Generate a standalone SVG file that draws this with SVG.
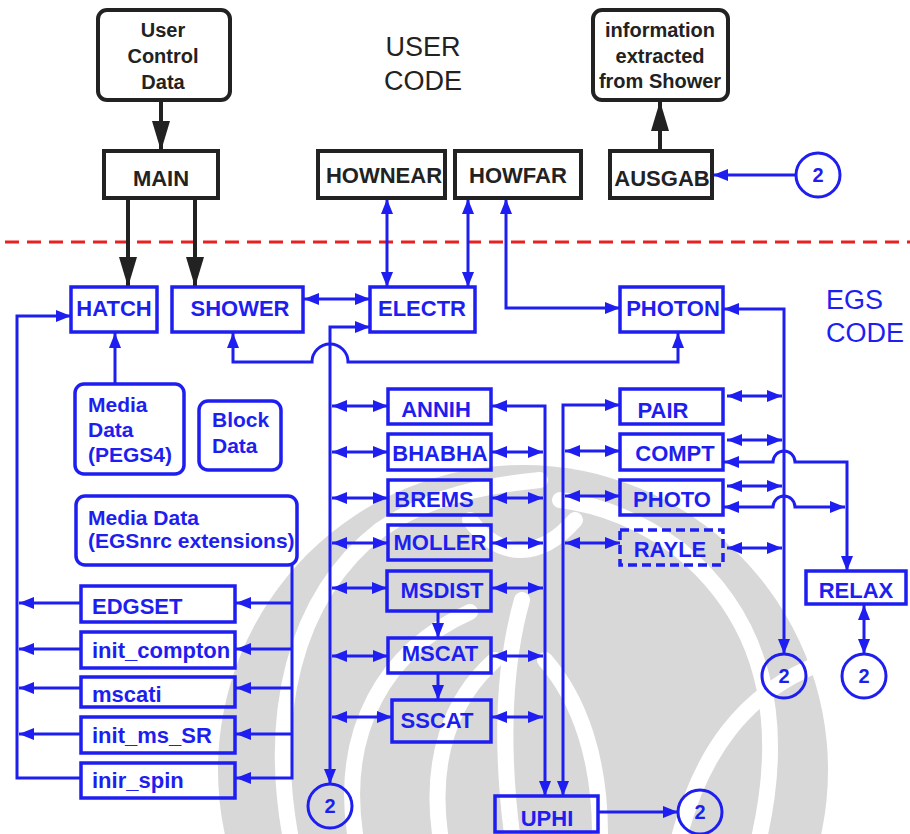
<svg xmlns="http://www.w3.org/2000/svg" width="910" height="834" viewBox="0 0 910 834">
<style>
.bk{fill:#fff;stroke:#222;stroke-width:4}
.bb{fill:none;stroke:#1e1ef0;stroke-width:3.5}
.t{font-family:"Liberation Sans",Arial,sans-serif;font-weight:bold;font-size:22px}
.tk{fill:#222}
.tb{fill:#1e1ef0}
.m{text-anchor:middle}
.cb{fill:none;stroke:#1e1ef0;stroke-width:3}
.ck{fill:none;stroke:#222;stroke-width:4}
.bl{fill:none;stroke:#1e1ef0;stroke-width:3}
.big{font-family:"Liberation Sans",Arial,sans-serif;font-size:27px}
.wm{fill:none;stroke:#fff;stroke-width:16;stroke-linecap:round}
</style>
<defs>
<marker id="ab" viewBox="0 0 15 12" refX="15" refY="6" markerWidth="15" markerHeight="12" markerUnits="userSpaceOnUse" orient="auto-start-reverse"><path d="M0,0 L15,6 L0,12 z" fill="#1e1ef0"/></marker>
<marker id="ak" viewBox="0 0 30 18" refX="30" refY="9" markerWidth="30" markerHeight="18" markerUnits="userSpaceOnUse" orient="auto-start-reverse"><path d="M0,0 L30,9 L0,18 z" fill="#222"/></marker>
</defs>
<rect width="910" height="834" fill="#fff"/>
<g id="watermark">
<circle cx="523" cy="770" r="305" fill="#d8d8d8"/>
<path class="wm" d="M290,834 C270,720 290,600 380,530 C430,495 490,485 540,480"/>
<path class="wm" d="M760,834 C785,720 765,620 680,550 C640,520 600,505 560,500"/>
<path class="wm" d="M512,834 C500,740 505,660 522,600"/>
<path class="wm" d="M355,834 C340,730 385,650 470,612"/>
<path class="wm" d="M440,834 C430,760 450,700 495,660"/>
<path class="wm" d="M600,834 C600,760 580,700 545,660"/>
<path class="wm" d="M680,834 C700,760 740,690 830,660"/>
<path class="wm" d="M470,520 C500,560 540,560 575,520"/>
</g>
<line x1="5" y1="242" x2="910" y2="242" stroke="#e82020" stroke-width="3" stroke-dasharray="14 8"/>
<text class="big tk m" x="423" y="56">USER</text>
<text class="big tk m" x="423" y="90">CODE</text>
<text class="big tb" x="826" y="309">EGS</text>
<text class="big tb" x="826" y="342">CODE</text>
<g id="connectors">
<path class="ck" d="M161,100 V151" marker-end="url(#ak)"/>
<path class="ck" d="M128,198 V287" marker-end="url(#ak)"/>
<path class="ck" d="M195,198 V287" marker-end="url(#ak)"/>
<path class="ck" d="M660,151 V101" marker-end="url(#ak)"/>
<path class="bl" d="M387,199 V287" marker-start="url(#ab)" marker-end="url(#ab)"/>
<path class="bl" d="M468,199 V287" marker-start="url(#ab)" marker-end="url(#ab)"/>
<path class="bl" d="M506,199 V308 H620" marker-start="url(#ab)" marker-end="url(#ab)"/>
<path class="bl" d="M796,175 H713" marker-end="url(#ab)"/>
<path class="bl" d="M304,299 H370" marker-start="url(#ab)" marker-end="url(#ab)"/>
<path class="bl" d="M370,327 H330 V784" marker-start="url(#ab)" marker-end="url(#ab)"/>
<path class="bl" d="M233,333 V362 H312 A18,18 0 0 1 348,362 H678 V333" marker-start="url(#ab)" marker-end="url(#ab)"/>
<path class="bl" d="M724,309 H784 V654" marker-start="url(#ab)" marker-end="url(#ab)"/>
<path class="bl" d="M71,316 H17 V778 H81" marker-start="url(#ab)"/>
<path class="bl" d="M115,384 V333" marker-end="url(#ab)"/>
<path class="bl" d="M81,603 H19" marker-end="url(#ab)"/>
<path class="bl" d="M81,649 H19" marker-end="url(#ab)"/>
<path class="bl" d="M81,688 H19" marker-end="url(#ab)"/>
<path class="bl" d="M81,734 H19" marker-end="url(#ab)"/>
<path class="bl" d="M292,565 V778 H236" marker-end="url(#ab)"/>
<path class="bl" d="M292,603 H236" marker-end="url(#ab)"/>
<path class="bl" d="M292,649 H236" marker-end="url(#ab)"/>
<path class="bl" d="M292,688 H236" marker-end="url(#ab)"/>
<path class="bl" d="M292,734 H236" marker-end="url(#ab)"/>
<path class="bl" d="M332,406 H388" marker-start="url(#ab)" marker-end="url(#ab)"/>
<path class="bl" d="M332,452 H388" marker-start="url(#ab)" marker-end="url(#ab)"/>
<path class="bl" d="M332,498 H388" marker-start="url(#ab)" marker-end="url(#ab)"/>
<path class="bl" d="M332,543 H388" marker-start="url(#ab)" marker-end="url(#ab)"/>
<path class="bl" d="M332,588 H387" marker-start="url(#ab)" marker-end="url(#ab)"/>
<path class="bl" d="M332,656 H388" marker-start="url(#ab)" marker-end="url(#ab)"/>
<path class="bl" d="M332,717 H392" marker-start="url(#ab)" marker-end="url(#ab)"/>
<path class="bl" d="M492,406 H545 V796" marker-start="url(#ab)" marker-end="url(#ab)"/>
<path class="bl" d="M492,452 H543" marker-start="url(#ab)" marker-end="url(#ab)"/>
<path class="bl" d="M492,498 H543" marker-start="url(#ab)" marker-end="url(#ab)"/>
<path class="bl" d="M492,543 H543" marker-start="url(#ab)" marker-end="url(#ab)"/>
<path class="bl" d="M492,588 H543" marker-start="url(#ab)" marker-end="url(#ab)"/>
<path class="bl" d="M492,656 H543" marker-start="url(#ab)" marker-end="url(#ab)"/>
<path class="bl" d="M492,717 H543" marker-start="url(#ab)" marker-end="url(#ab)"/>
<path class="bl" d="M438,611 V638" marker-end="url(#ab)"/>
<path class="bl" d="M438,673 V700" marker-end="url(#ab)"/>
<path class="bl" d="M620,405 H563 V796" marker-start="url(#ab)" marker-end="url(#ab)"/>
<path class="bl" d="M565,451 H620" marker-start="url(#ab)" marker-end="url(#ab)"/>
<path class="bl" d="M565,496 H620" marker-start="url(#ab)" marker-end="url(#ab)"/>
<path class="bl" d="M565,543 H620" marker-start="url(#ab)" marker-end="url(#ab)"/>
<path class="bl" d="M727,396 H782" marker-start="url(#ab)" marker-end="url(#ab)"/>
<path class="bl" d="M727,440 H782" marker-start="url(#ab)" marker-end="url(#ab)"/>
<path class="bl" d="M727,486 H782" marker-start="url(#ab)" marker-end="url(#ab)"/>
<path class="bl" d="M727,548 H782" marker-start="url(#ab)" marker-end="url(#ab)"/>
<path class="bl" d="M724,462 H773 A11,11 0 0 1 795,462 H847 V571" marker-start="url(#ab)" marker-end="url(#ab)"/>
<path class="bl" d="M724,507 H773 A11,11 0 0 1 795,507 H845" marker-start="url(#ab)" marker-end="url(#ab)"/>
<path class="bl" d="M864,605 V654" marker-start="url(#ab)" marker-end="url(#ab)"/>
<path class="bl" d="M598,812 H678" marker-end="url(#ab)"/>
</g>
<g id="n_ucd"><rect class="bk" x="98" y="10" width="132" height="90" rx="9"/><text class="t tk m" x="163" y="37" style="font-size:20px">User</text><text class="t tk m" x="163" y="63" style="font-size:20px">Control</text><text class="t tk m" x="163" y="89" style="font-size:20px">Data</text></g>
<g id="n_info"><rect class="bk" x="593" y="10" width="135" height="90" rx="9"/><text class="t tk m" x="660" y="37" style="font-size:20px">information</text><text class="t tk m" x="660" y="63" style="font-size:20px">extracted</text><text class="t tk m" x="660" y="88" style="font-size:20px">from Shower</text></g>
<g id="n_main"><rect class="bk" x="104" y="151" width="114" height="47"/><text class="t tk m" x="161" y="186">MAIN</text></g>
<g id="n_hownear"><rect class="bk" x="318" y="151" width="127" height="47"/><text class="t tk m" x="384" y="183">HOWNEAR</text></g>
<g id="n_howfar"><rect class="bk" x="455" y="151" width="126" height="47"/><text class="t tk m" x="518" y="183">HOWFAR</text></g>
<g id="n_ausgab"><rect class="bk" x="610" y="151" width="102" height="47"/><text class="t tk m" x="662" y="186">AUSGAB</text></g>
<g id="n_c2a"><circle class="cb" cx="818" cy="175" r="22"/><text class="t tb m" x="818" y="182" style="font-size:20px">2</text></g>
<g id="n_hatch"><rect class="bb" x="71" y="287" width="86" height="45"/><text class="t tb m" x="114" y="316">HATCH</text></g>
<g id="n_shower"><rect class="bb" x="172" y="287" width="131" height="45"/><text class="t tb m" x="240" y="316">SHOWER</text></g>
<g id="n_electr"><rect class="bb" x="370" y="287" width="105" height="45"/><text class="t tb m" x="422" y="316">ELECTR</text></g>
<g id="n_photon"><rect class="bb" x="620" y="287" width="103" height="45"/><text class="t tb m" x="673" y="316">PHOTON</text></g>
<g id="n_pegs"><rect class="bb" x="75" y="384" width="109" height="90" rx="9"/><text class="t tb" x="88" y="412" style="font-size:21px">Media</text><text class="t tb" x="88" y="437" style="font-size:21px">Data</text><text class="t tb" x="88" y="462" style="font-size:21px">(PEGS4)</text></g>
<g id="n_block"><rect class="bb" x="199" y="401" width="82" height="69" rx="9"/><text class="t tb" x="212" y="427" style="font-size:21px">Block</text><text class="t tb" x="212" y="453" style="font-size:21px">Data</text></g>
<g id="n_egsnrc"><rect class="bb" x="76" y="496" width="221" height="69" rx="9"/><text class="t tb" x="88" y="525" style="font-size:21px">Media Data</text><text class="t tb" x="88" y="548" style="font-size:21px">(EGSnrc extensions)</text></g>
<g id="n_annih"><rect class="bb" x="388" y="389" width="103" height="35"/><text class="t tb m" x="436" y="417">ANNIH</text></g>
<g id="n_bhabha"><rect class="bb" x="388" y="434" width="103" height="36"/><text class="t tb m" x="440" y="461">BHABHA</text></g>
<g id="n_brems"><rect class="bb" x="388" y="480" width="103" height="35"/><text class="t tb m" x="434" y="507">BREMS</text></g>
<g id="n_moller"><rect class="bb" x="388" y="525" width="103" height="35"/><text class="t tb m" x="440" y="550">MOLLER</text></g>
<g id="n_msdist"><rect class="bb" x="387" y="571" width="104" height="40"/><text class="t tb m" x="442" y="598">MSDIST</text></g>
<g id="n_mscat"><rect class="bb" x="388" y="638" width="103" height="35"/><text class="t tb m" x="440" y="661">MSCAT</text></g>
<g id="n_sscat"><rect class="bb" x="392" y="700" width="99" height="42"/><text class="t tb m" x="437" y="728">SSCAT</text></g>
<g id="n_pair"><rect class="bb" x="620" y="389" width="103" height="35"/><text class="t tb m" x="663" y="418">PAIR</text></g>
<g id="n_compt"><rect class="bb" x="620" y="434" width="103" height="36"/><text class="t tb m" x="675" y="461">COMPT</text></g>
<g id="n_photo"><rect class="bb" x="620" y="480" width="103" height="35"/><text class="t tb m" x="672" y="507">PHOTO</text></g>
<g id="n_rayle"><rect class="bb" x="620" y="530" width="103" height="35" stroke-dasharray="9 5"/><text class="t tb m" x="670" y="557">RAYLE</text></g>
<g id="n_relax"><rect class="bb" x="806" y="571" width="100" height="33"/><text class="t tb m" x="856" y="598">RELAX</text></g>
<g id="n_c2b"><circle class="cb" cx="784" cy="676" r="22"/><text class="t tb m" x="784" y="683" style="font-size:20px">2</text></g>
<g id="n_c2c"><circle class="cb" cx="864" cy="676" r="22"/><text class="t tb m" x="864" y="683" style="font-size:20px">2</text></g>
<g id="n_edgset"><rect class="bb" x="81" y="586" width="154" height="36"/><text class="t tb" x="92" y="614">EDGSET</text></g>
<g id="n_initcompton"><rect class="bb" x="81" y="632" width="154" height="36"/><text class="t tb" x="92" y="658">init_compton</text></g>
<g id="n_mscati"><rect class="bb" x="81" y="677" width="154" height="30"/><text class="t tb" x="92" y="702">mscati</text></g>
<g id="n_initmssr"><rect class="bb" x="81" y="717" width="154" height="36"/><text class="t tb" x="92" y="743">init_ms_SR</text></g>
<g id="n_inirspin"><rect class="bb" x="81" y="763" width="154" height="35"/><text class="t tb" x="92" y="788">inir_spin</text></g>
<g id="n_c2d"><circle class="cb" cx="330" cy="806" r="22"/><text class="t tb m" x="330" y="813" style="font-size:20px">2</text></g>
<g id="n_uphi"><rect class="bb" x="495" y="796" width="103" height="36"/><text class="t tb m" x="547" y="826">UPHI</text></g>
<g id="n_c2e"><circle class="cb" cx="700" cy="812" r="22"/><text class="t tb m" x="700" y="819" style="font-size:20px">2</text></g>
</svg>
